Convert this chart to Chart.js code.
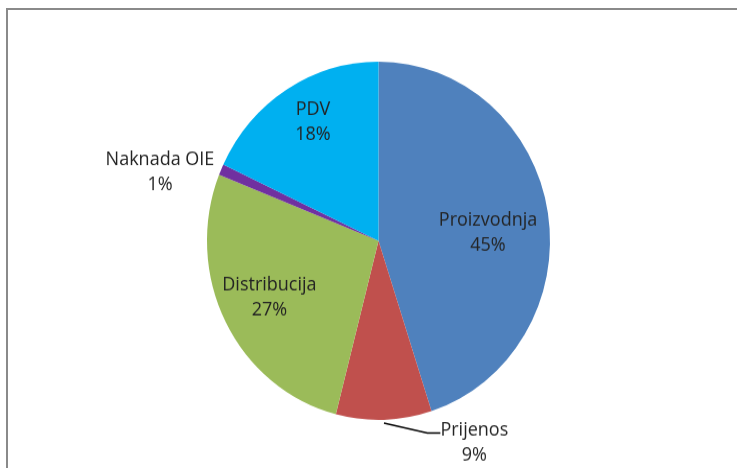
<!DOCTYPE html>
<html>
<head>
<meta charset="utf-8">
<script src="https://cdn.jsdelivr.net/npm/chart.js@4"></script>
<style>
  html, body { margin: 0; padding: 0; background: #fff; overflow: hidden; }
  #wrap { position: relative; width: 737px; height: 468px; }
  #frame { position: absolute; left: 6px; top: 8px; width: 800px; height: 600px; border: 2px solid #8a8a8a; box-sizing: border-box; }
  /* the original pie is slightly taller than wide */
  #stretch { position: absolute; left: 0; top: 0; width: 737px; height: 448px; transform: scaleY(1.0446); transform-origin: 0 0; }
</style>
</head>
<body>
<div id="wrap">
  <div id="frame"></div>
  <div id="stretch">
    <canvas id="pieChart" width="737" height="448"></canvas>
  </div>
</div>
<script>
// Struktura cijene
const categories = ['Proizvodnja', 'Prijenos', 'Distribucija', 'Naknada OIE', 'PDV'];
const shares = [45, 9, 27, 1, 18];
const sliceColors = ['#4F81BD', '#C0504D', '#9BBB59', '#7030A0', '#00B0F0'];

// label placement per slice: radial fraction of radius, angle shift (deg)
const labelPlacement = [
    { f: 0.640, shift: 5.2 },
    { f: 1.257, shift: -24.6, leader: true },
    { f: 0.710, shift: 0.6 },
    { f: 1.331, shift: -6.6 },
    { f: 0.764, shift: 2.4 }
];

const sliceLabels = {
    id: 'sliceLabels',
    afterDatasetsDraw(chart) {
        const ctx = chart.ctx;
        const meta = chart.getDatasetMeta(0);
        ctx.save();
        ctx.font = '18px "Open Sans", sans-serif';
        ctx.fillStyle = '#232323';
        ctx.textBaseline = 'middle';
        ctx.textAlign = 'center';
        meta.data.forEach((arc, i) => {
            const p = arc.getProps(['x', 'y', 'startAngle', 'endAngle', 'outerRadius'], true);
            const opt = labelPlacement[i];
            const mid = (p.startAngle + p.endAngle) / 2;
            const a = mid + opt.shift * Math.PI / 180;
            const r = p.outerRadius * opt.f;
            const lx = p.x + Math.cos(a) * r;
            const ly = p.y + Math.sin(a) * r;
            if (opt.leader) {
                const sx = p.x + Math.cos(mid) * (p.outerRadius + 3);
                const sy = p.y + Math.sin(mid) * (p.outerRadius + 3);
                ctx.beginPath();
                ctx.strokeStyle = '#000';
                ctx.lineWidth = 1.5;
                ctx.moveTo(sx, sy);
                ctx.lineTo(lx - 47, ly - 9);
                ctx.lineTo(lx - 34, ly - 9);
                ctx.stroke();
            }
            ctx.fillText(categories[i], lx, ly - 12);
            ctx.fillText(shares[i] + '%', lx, ly + 12);
        });
        ctx.restore();
    }
};

new Chart(document.getElementById('pieChart'), {
    type: 'pie',
    data: {
        labels: categories,
        datasets: [{
            data: shares,
            backgroundColor: sliceColors,
            borderWidth: 0
        }]
    },
    options: {
        responsive: false,
        animation: false,
        layout: { padding: { left: 207, right: 187, top: 59, bottom: 46 } },
        plugins: {
            legend: { display: false },
            tooltip: { enabled: false }
        }
    },
    plugins: [sliceLabels]
});
</script>
</body>
</html>
